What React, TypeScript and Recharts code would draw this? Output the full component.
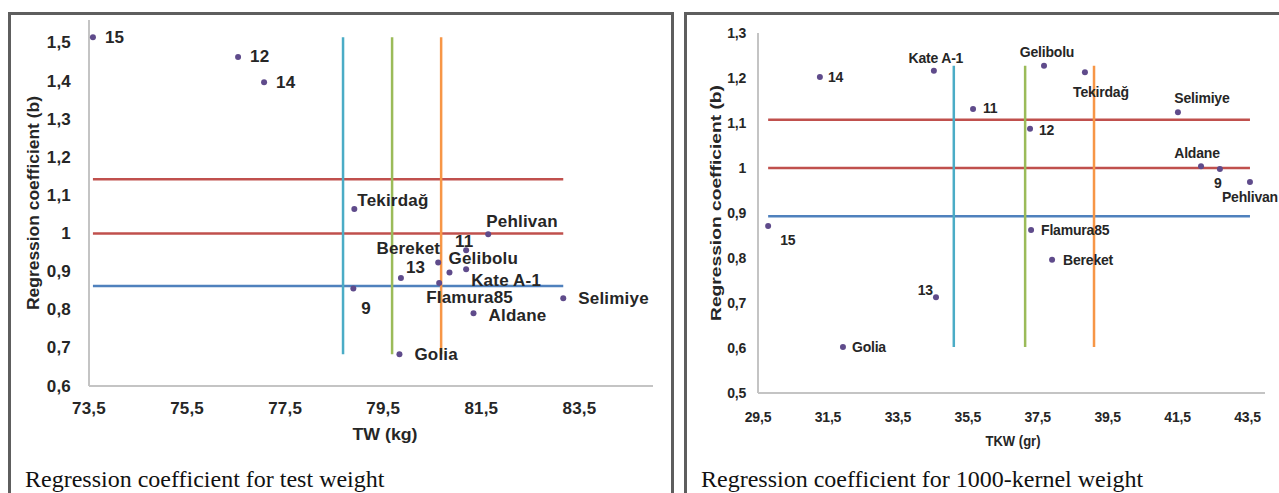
// Two regression-coefficient scatter panels (TW and TKW) with mean / ±SD guide lines.
import { ScatterChart, Scatter, XAxis, YAxis, ReferenceLine } from 'recharts';

// ── Panel 1: test weight ─────────────────────────────────────────────────────
const twNames = ['15', '12', '14', 'Tekirdağ', 'Pehlivan', '11', 'Bereket', 'Gelibolu', 'Kate A-1', '13', 'Flamura85', '9', 'Selimiye', 'Aldane', 'Golia'];
const twValues = [73.58, 76.54, 77.07, 78.91, 81.64, 81.19, 80.62, 80.85, 81.19, 79.86, 80.64, 78.89, 83.17, 81.34, 79.83];
const twB = [1.515, 1.463, 1.397, 1.064, 0.998, 0.956, 0.924, 0.898, 0.906, 0.883, 0.870, 0.856, 0.830, 0.791, 0.683];
const twTicks = [73.5, 75.5, 77.5, 79.5, 81.5, 83.5];
const twBTicks = [0.6, 0.7, 0.8, 0.9, 1.0, 1.1, 1.2, 1.3, 1.4, 1.5];
const twHLines = [1.142, 1.0, 0.862];
const twVLines = [78.68, 79.68, 80.68];

// ── Panel 2: 1000-kernel weight ──────────────────────────────────────────────
const tkwNames = ['15', '14', 'Kate A-1', '11', 'Gelibolu', 'Tekirdağ', '12', 'Selimiye', 'Aldane', '9', 'Pehlivan', 'Flamura85', 'Bereket', '13', 'Golia'];
const tkwValues = [29.79, 31.27, 34.53, 35.65, 37.68, 38.85, 37.28, 41.51, 42.17, 42.71, 43.57, 37.31, 37.91, 34.59, 31.93];
const tkwB = [0.871, 1.202, 1.216, 1.131, 1.227, 1.213, 1.087, 1.124, 1.004, 0.998, 0.969, 0.862, 0.796, 0.713, 0.602];
const tkwTicks = [29.5, 31.5, 33.5, 35.5, 37.5, 39.5, 41.5, 43.5];
const tkwBTicks = [0.5, 0.6, 0.7, 0.8, 0.9, 1.0, 1.1, 1.2, 1.3];
const tkwHLines = [1.107, 1.0, 0.893];
const tkwVLines = [35.1, 37.14, 39.11];

const H_COLORS = ['#C0504D', '#C0504D', '#4F81BD'];
const V_COLORS = ['#4BACC6', '#9BBB59', '#F79646'];
const DOT = '#5F4B8B';
const AXIS = { stroke: '#c4c4c4', strokeWidth: 2 };
const SANS = "'Liberation Sans', Arial, sans-serif";
const SERIF = "'Liberation Serif', 'Times New Roman', serif";
const INK = '#262626';

// label placement per point: [dx, dy, anchor]
type Place = [number, number, 'start' | 'middle' | 'end'];
const TW_PLACE: Record<string, Place> = {
  '15': [12, 0, 'start'], '12': [12, 0, 'start'], '14': [12, 0, 'start'],
  'Tekirdağ': [3, -9, 'start'], 'Pehlivan': [-2, -13, 'start'], '11': [-2, -9, 'middle'],
  'Bereket': [2, -14, 'end'], 'Gelibolu': [-1, -14, 'start'], 'Kate A-1': [5, 11, 'start'],
  '13': [5, -11, 'start'], 'Flamura85': [-13, 14, 'start'], '9': [8, 20, 'start'],
  'Selimiye': [15, 0, 'start'], 'Aldane': [15, 2, 'start'], 'Golia': [15, 0, 'start'],
};
const TKW_PLACE: Record<string, Place> = {
  '15': [12, 14, 'start'], '14': [8, 0, 'start'], 'Kate A-1': [2, -13, 'middle'],
  '11': [10, -1, 'start'], 'Gelibolu': [3, -14, 'middle'], 'Tekirdağ': [16, 20, 'middle'],
  '12': [9, 1, 'start'], 'Selimiye': [24, -14, 'middle'], 'Aldane': [-4, -13, 'middle'],
  '9': [-2, 14, 'middle'], 'Pehlivan': [28, 15, 'end'], 'Flamura85': [10, 0, 'start'],
  'Bereket': [11, 0, 'start'], '13': [-3, -7, 'end'], 'Golia': [9, 0, 'start'],
};

const fmt = (v: number) => String(Math.round(v * 10) / 10).replace('.', ',');

function makeShape(place: Record<string, Place>, fontSize: number, spacing: number) {
  return (p: any) => {
    const [dx, dy, anchor] = place[p.payload.name] ?? [8, 0, 'start'];
    return (
      <g>
        <circle cx={p.cx} cy={p.cy} r={3} fill={DOT} />
        <text x={p.cx + dx} y={p.cy + dy} textAnchor={anchor} dominantBaseline="central"
          fontFamily={SANS} fontWeight="bold" fontSize={fontSize} letterSpacing={spacing} fill={INK}>
          {p.payload.name}
        </text>
      </g>
    );
  };
}

// axis tick renderers (bold, comma decimals)
function makeXTick(fontSize: number, spacing: number, gap: number) {
  return (t: any) => (
    <text x={t.x} y={t.y - 6 + gap} textAnchor="middle" dominantBaseline="hanging" fontFamily={SANS}
      fontWeight="bold" fontSize={fontSize} letterSpacing={spacing} fill={INK}>
      {fmt(t.payload.value)}
    </text>
  );
}
function makeYTick(fontSize: number, spacing: number, gap: number) {
  return (t: any) => (
    <text x={t.x + 6 - gap} y={t.y} textAnchor="end" dominantBaseline="central" fontFamily={SANS}
      fontWeight="bold" fontSize={fontSize} letterSpacing={spacing} fill={INK}>
      {fmt(t.payload.value)}
    </text>
  );
}

interface PanelProps {
  names: string[]; xs: number[]; ys: number[];
  xTicks: number[]; yTicks: number[]; xDomain: [number, number]; yDomain: [number, number];
  hLines: number[]; vLines: number[];
  width: number; height: number; margin: { top: number; right: number; bottom: number; left: number };
  yWidth: number; fontSize: number; spacing: number; place: Record<string, Place>;
  xTitle: string; xTitleX: number; xTitleY: number; xTitleLen: number;
  yTitleX: number; yTitleY: number; yTitleLen: number; titleSize: number;
  yGap: number; xGap: number;
}

function Panel(p: PanelProps) {
  const data = p.names.map((n, i) => ({ name: n, x: p.xs[i], y: p.ys[i] }));
  const xMin = Math.min(...p.xs), xMax = Math.max(...p.xs);
  const yMin = Math.min(...p.ys), yMax = Math.max(...p.ys);
  return (
    <ScatterChart width={p.width} height={p.height} margin={p.margin}>
      <XAxis type="number" dataKey="x" domain={p.xDomain} ticks={p.xTicks} interval={0}
        axisLine={AXIS} tickLine={false} tick={makeXTick(p.fontSize, p.spacing, p.xGap)} />
      <YAxis type="number" dataKey="y" domain={p.yDomain} ticks={p.yTicks} interval={0}
        width={p.yWidth} axisLine={AXIS} tickLine={false} tick={makeYTick(p.fontSize, p.spacing, p.yGap)} />
      {p.hLines.map((v, i) => (
        <ReferenceLine key={'h' + i} segment={[{ x: xMin, y: v }, { x: xMax, y: v }]} stroke={H_COLORS[i]} strokeWidth={2.5} ifOverflow="visible" />
      ))}
      {p.vLines.map((v, i) => (
        <ReferenceLine key={'v' + i} segment={[{ x: v, y: yMin }, { x: v, y: yMax }]} stroke={V_COLORS[i]} strokeWidth={2.5} ifOverflow="visible" />
      ))}
      <Scatter data={data} isAnimationActive={false} shape={makeShape(p.place, p.fontSize, p.spacing)} />
      <text x={p.xTitleX} y={p.xTitleY} textAnchor="middle" dominantBaseline="central" fontFamily={SANS}
        fontWeight="bold" fontSize={p.titleSize} fill={INK} textLength={p.xTitleLen} lengthAdjust="spacingAndGlyphs">{p.xTitle}</text>
      <text x={p.yTitleX} y={p.yTitleY} transform={`rotate(-90, ${p.yTitleX}, ${p.yTitleY})`} textAnchor="middle"
        dominantBaseline="central" fontFamily={SANS} fontWeight="bold" fontSize={p.titleSize} fill={INK}
        textLength={p.yTitleLen} lengthAdjust="spacingAndGlyphs">
        Regression coefficient (b)
      </text>
    </ScatterChart>
  );
}

const box = (left: number, width: number) => ({
  position: 'absolute' as const, left, top: 12, width, height: 520,
  border: '3px solid #5e5e5e', boxSizing: 'border-box' as const,
});

export default function App() {
  return (
    <div style={{ position: 'absolute', left: 0, top: 0, width: 1279, height: 493, overflow: 'hidden', background: '#fff' }}>
      <div style={box(8, 666)} />
      <div style={box(684, 620)} />
      <div style={{ position: 'absolute', left: 0, top: 0 }}>
        <Panel names={twNames} xs={twValues} ys={twB} xTicks={twTicks} yTicks={twBTicks}
          xDomain={[73.5, 85]} yDomain={[0.6, 1.56]} hLines={twHLines} vLines={twVLines}
          width={673} height={460} margin={{ top: 20, right: 20, bottom: 44, left: 0 }}
          yWidth={89} fontSize={17} spacing={0.2} place={TW_PLACE}
          xTitle="TW (kg)" xTitleX={385} xTitleY={434} xTitleLen={65}
          yTitleX={33} yTitleY={203} yTitleLen={214} titleSize={16} yGap={16} xGap={14} />
      </div>
      <div style={{ position: 'absolute', left: 684, top: 0 }}>
        <Panel names={tkwNames} xs={tkwValues} ys={tkwB} xTicks={tkwTicks} yTicks={tkwBTicks}
          xDomain={[29.5, 44]} yDomain={[0.5, 1.3]} hLines={tkwHLines} vLines={tkwVLines}
          width={600} height={460} margin={{ top: 33, right: 19, bottom: 37, left: 0 }}
          yWidth={74} fontSize={14} spacing={-0.2} place={TKW_PLACE}
          xTitle="TKW (gr)" xTitleX={329} xTitleY={440} xTitleLen={55}
          yTitleX={31} yTitleY={203} yTitleLen={236} titleSize={15} yGap={10} xGap={17} />
      </div>
      <div style={{ position: 'absolute', left: 25, top: 466, fontFamily: SERIF, fontSize: 24, color: '#111', whiteSpace: 'nowrap' }}>
        Regression coefficient for test weight
      </div>
      <div style={{ position: 'absolute', left: 701, top: 466, fontFamily: SERIF, fontSize: 24, color: '#111', whiteSpace: 'nowrap' }}>
        Regression coefficient for 1000-kernel weight
      </div>
    </div>
  );
}
